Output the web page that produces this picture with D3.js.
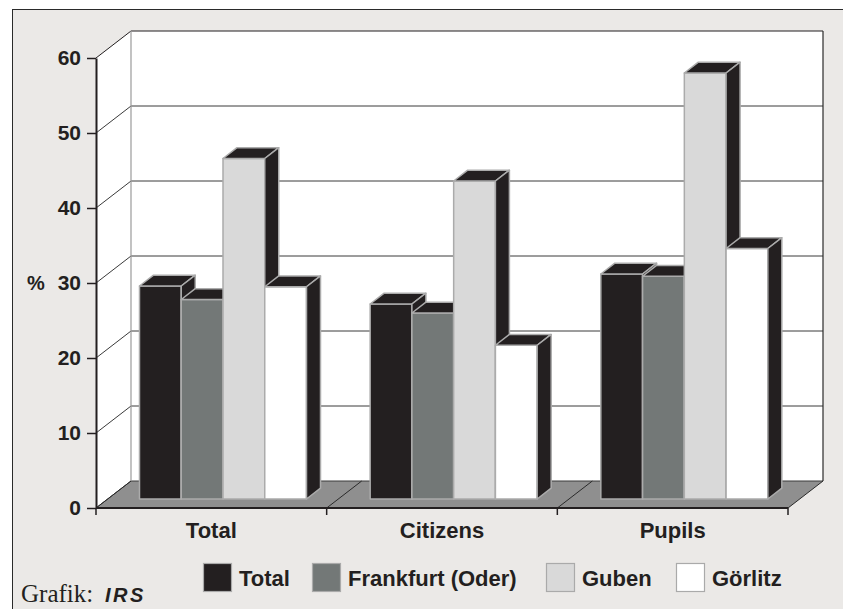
<!DOCTYPE html>
<html>
<head>
<meta charset="utf-8">
<script src="https://cdn.jsdelivr.net/npm/d3@7"></script>
<style>
  html, body { margin: 0; padding: 0; background: #ffffff; }
  svg { display: block; }
  text { fill: #231f20; }
</style>
</head>
<body>
<script>
// ---------------- DATA ----------------
const categories = ["Total", "Citizens", "Pupils"];
const seriesNames = ["Total", "Frankfurt (Oder)", "Guben", "Görlitz"];
const seriesTotal     = [28.4, 26.0, 30.0];
const seriesFrankfurt = [26.6, 24.8, 29.7];
const seriesGuben     = [45.4, 42.4, 56.8];
const seriesGoerlitz  = [28.3, 20.5, 33.4];
const yTicks = [0, 10, 20, 30, 40, 50, 60];
const yLabel = "%";
const credit = "Grafik:";
const creditBrand = "IRS";

// ---------------- STYLE / LAYOUT ----------------
const seriesValues = [seriesTotal, seriesFrankfurt, seriesGuben, seriesGoerlitz];
const seriesColors = ["#231f20", "#737877", "#d9d9d9", "#ffffff"];
const sideColor = "#231f20";
const outlineColor = "#ababab";
const SANS = "'Liberation Sans', Arial, sans-serif";
const SERIF = "'Liberation Serif', 'Times New Roman', serif";
const W = 843, H = 609;
const DX = 35, DY = 27;           // 3D depth offset of the chart box
const F0 = 1 / 3, F1 = F0 + 0.4;  // depth fractions occupied by bars
const groupFrac = 0.724;
const legendX = [203, 312, 546, 676];

const svg = d3.select("body").append("svg")
  .attr("width", W).attr("height", H);

// outer frame
svg.append("rect")
  .attr("x", 12.5).attr("y", 9.5)
  .attr("width", 900).attr("height", 700)
  .attr("fill", "#ebe9e7").attr("stroke", "#2a2a2a").attr("stroke-width", 1);

const x = d3.scaleBand().domain(categories).range([96, 788]).padding(0);
const y = d3.scaleLinear().domain([0, 60]).range([508, 58]);
const proj = (px, v, f) => [px + DX * f, y(v) - DY * f];
const poly = pts => pts.map(p => p.join(",")).join(" ");

const xL = x.range()[0], xR = x.range()[1];
const yMax = y.domain()[1];

// left wall
svg.append("polygon")
  .attr("points", poly([proj(xL, 0, 0), proj(xL, yMax, 0), proj(xL, yMax, 1), proj(xL, 0, 1)]))
  .attr("fill", "#ffffff");
// back wall
svg.append("polygon")
  .attr("points", poly([proj(xL, 0, 1), proj(xL, yMax, 1), proj(xR, yMax, 1), proj(xR, 0, 1)]))
  .attr("fill", "#ffffff");
// floor
svg.append("polygon")
  .attr("points", poly([proj(xL, 0, 0), proj(xR, 0, 0), proj(xR, 0, 1), proj(xL, 0, 1)]))
  .attr("fill", "#8f8f8f");

// gridlines (left wall diagonal + back wall horizontal)
svg.append("g").selectAll("polyline")
  .data(yTicks)
  .join("polyline")
  .attr("points", v => poly([proj(xL, v, 0), proj(xL, v, 1), proj(xR, v, 1)]))
  .attr("fill", "none")
  .attr("stroke", v => v === yMax ? "#231f20" : "#3a3a3a")
  .attr("stroke-width", 1);

// back wall left edge
svg.append("line")
  .attr("x1", proj(xL, 0, 1)[0]).attr("y1", proj(xL, 0, 1)[1])
  .attr("x2", proj(xL, yMax, 1)[0]).attr("y2", proj(xL, yMax, 1)[1])
  .attr("stroke", "#9a9a9a").attr("stroke-width", 1.2);
// back wall right edge
svg.append("line")
  .attr("x1", proj(xR, 0, 1)[0]).attr("y1", proj(xR, 0, 1)[1])
  .attr("x2", proj(xR, yMax, 1)[0]).attr("y2", proj(xR, yMax, 1)[1])
  .attr("stroke", "#2a2a2a").attr("stroke-width", 1.2);

// floor diagonals at category edges
const edges = categories.map(c => x(c)).concat([xR]);
svg.append("g").selectAll("line")
  .data(edges)
  .join("line")
  .attr("x1", d => proj(d, 0, 0)[0]).attr("y1", d => proj(d, 0, 0)[1])
  .attr("x2", d => proj(d, 0, 1)[0]).attr("y2", d => proj(d, 0, 1)[1])
  .attr("stroke", "#2a2a2a").attr("stroke-width", 1);

// bars
const bw = x.bandwidth();
const gw = bw * groupFrac;
const xs = d3.scaleBand().domain(seriesNames).range([0, gw]).padding(0);

const barsG = svg.append("g");
categories.forEach((c, i) => {
  const gx = x(c) + (bw - gw) / 2;
  seriesNames.forEach((s, j) => {
    const v = seriesValues[j][i];
    const x0 = gx + xs(s), x1 = x0 + xs.bandwidth();
    const g = barsG.append("g")
      .attr("stroke", outlineColor).attr("stroke-width", 1.5)
      .attr("stroke-linejoin", "round");
    g.append("polygon")
      .attr("points", poly([proj(x0, 0, F0), proj(x0, v, F0), proj(x1, v, F0), proj(x1, 0, F0)]))
      .attr("fill", seriesColors[j]);
    g.append("polygon")
      .attr("points", poly([proj(x0, v, F0), proj(x0, v, F1), proj(x1, v, F1), proj(x1, v, F0)]))
      .attr("fill", sideColor);
    g.append("polygon")
      .attr("points", poly([proj(x1, 0, F0), proj(x1, v, F0), proj(x1, v, F1), proj(x1, 0, F1)]))
      .attr("fill", sideColor);
  });
});

// y axis
const yAxis = d3.axisLeft(y).tickValues(yTicks).tickSize(9).tickSizeOuter(0).tickPadding(6);
const yG = svg.append("g").attr("transform", `translate(${xL},0)`).call(yAxis);
yG.select(".domain").attr("stroke", "#231f20").attr("stroke-width", 2);
yG.selectAll(".tick line").attr("stroke", "#231f20").attr("stroke-width", 1.5);
yG.selectAll(".tick text")
  .style("font-family", SANS).style("font-size", "21px").style("font-weight", "bold")
  .attr("fill", "#231f20");

// y label
svg.append("text")
  .attr("x", 36).attr("y", y(30))
  .attr("dy", "0.35em")
  .attr("text-anchor", "middle")
  .style("font-family", SANS).style("font-size", "20px").style("font-weight", "bold")
  .text(yLabel);

// x axis baseline and edge ticks
svg.append("line")
  .attr("x1", xL).attr("x2", xR).attr("y1", y(0)).attr("y2", y(0))
  .attr("stroke", "#231f20").attr("stroke-width", 2);
svg.append("g").selectAll("line")
  .data(edges)
  .join("line")
  .attr("x1", d => d).attr("x2", d => d)
  .attr("y1", y(0)).attr("y2", y(0) + 7)
  .attr("stroke", "#231f20").attr("stroke-width", 1.5);

// category labels
svg.append("g").selectAll("text")
  .data(categories)
  .join("text")
  .attr("x", c => x(c) + bw / 2)
  .attr("y", 538)
  .attr("text-anchor", "middle")
  .style("font-family", SANS).style("font-size", "22px").style("font-weight", "bold")
  .text(c => c);

// legend
const leg = svg.append("g").selectAll("g")
  .data(seriesNames)
  .join("g")
  .attr("transform", (d, i) => `translate(${legendX[i]},563)`);
leg.append("rect")
  .attr("x", 0.5).attr("y", 0.5)
  .attr("width", 28).attr("height", 28)
  .attr("fill", (d, i) => seriesColors[i])
  .attr("stroke", "#aaaaaa").attr("stroke-width", 1.2);
leg.append("text")
  .attr("x", 36).attr("y", 23)
  .style("font-family", SANS).style("font-size", "22px").style("font-weight", "bold")
  .text(d => d);

// credit
svg.append("text")
  .attr("x", 21).attr("y", 602)
  .style("font-family", SERIF).style("font-size", "25px")
  .text(credit);
svg.append("text")
  .attr("x", 105).attr("y", 602)
  .style("font-family", SANS).style("font-size", "20px")
  .style("font-weight", "bold").style("font-style", "italic")
  .style("letter-spacing", "2.5px")
  .text(creditBrand);
</script>
</body>
</html>
